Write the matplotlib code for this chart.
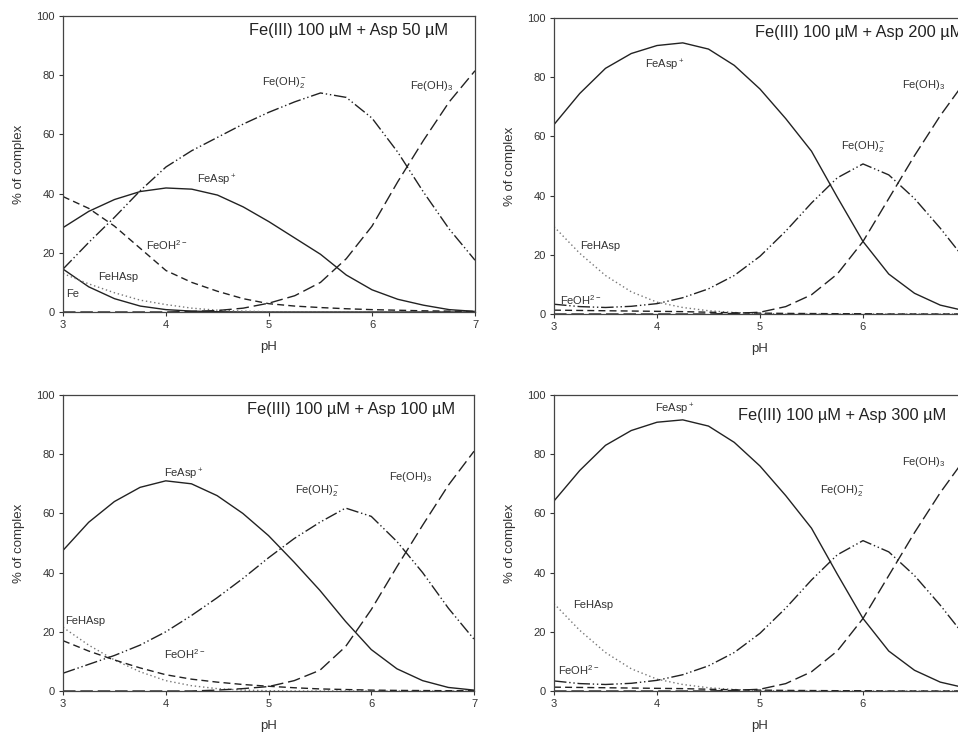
import matplotlib

matplotlib.use("Agg")
import matplotlib.pyplot as plt

plt.rcParams["font.family"] = ["Liberation Sans", "DejaVu Sans"]
plt.rcParams["mathtext.default"] = "regular"

# pH grid shared by every panel
ph = [3.0, 3.25, 3.5, 3.75, 4.0, 4.25, 4.5, 4.75, 5.0, 5.25, 5.5, 5.75, 6.0, 6.25, 6.5, 6.75, 7.0]

# Fe(III) 100 uM + Asp 50 uM
a50_feasp = [28.5, 34, 38, 40.7, 41.9, 41.5, 39.5, 35.5, 30.5, 25, 19.5, 12.5, 7.5, 4.3, 2.3, 0.8, 0.2]
a50_fe = [14.5, 8.5, 4.5, 2, 0.8, 0.3, 0.1, 0, 0, 0, 0, 0, 0, 0, 0, 0, 0]
a50_fehasp = [13, 9.5, 6.5, 4, 2.5, 1.3, 0.6, 0.3, 0.1, 0, 0, 0, 0, 0, 0, 0, 0]
a50_feoh = [39, 35, 29, 21.5, 14, 10, 7, 4.5, 2.8, 2, 1.5, 1.1, 0.8, 0.6, 0.4, 0.3, 0.2]
a50_feoh2 = [14.5, 23.5, 32, 41, 49, 54.5, 59, 63.5, 67.5, 71, 74, 72.5, 65.5, 54, 40.5, 28, 17.5]
a50_feoh3 = [0, 0, 0, 0, 0, 0.2, 0.5, 1.3, 3, 5.5, 10, 18, 29, 44, 58, 71, 81.5]

# Fe(III) 100 uM + Asp 100 uM
a100_feasp = [47.5, 57, 64, 68.8, 71, 70, 66, 60, 52.5, 43.5, 34, 23.5, 14, 7.5, 3.5, 1.2, 0.3]
a100_fehasp = [21.5, 15.5, 10.5, 6.5, 3.5, 1.8, 0.8, 0.3, 0.1, 0, 0, 0, 0, 0, 0, 0, 0]
a100_feoh = [17, 13.5, 10.5, 7.8, 5.5, 4, 3, 2.2, 1.6, 1.1, 0.7, 0.5, 0.3, 0.2, 0.15, 0.1, 0.1]
a100_feoh2 = [6, 9, 12, 15.5, 20, 25.5, 31.5, 38, 45, 51.5, 57, 61.8, 59, 50.5, 40, 28, 17.5]
a100_feoh3 = [0, 0, 0, 0, 0, 0, 0.3, 0.8, 1.5, 3.5, 7, 15, 27.5, 42, 56, 69.5, 81]

# Fe(III) 100 uM + Asp 200 uM
a200_feasp = [64, 74.5, 83, 88, 90.7, 91.6, 89.5, 84, 76, 66, 55, 39.5, 24.5, 13.5, 7, 3, 1]
a200_fehasp = [29.5, 20.5, 13, 7.5, 4, 2.2, 1.1, 0.5, 0.2, 0, 0, 0, 0, 0, 0, 0, 0]
a200_feoh = [1.3, 1.2, 1.1, 1, 0.9, 0.8, 0.6, 0.4, 0.3, 0.2, 0.15, 0.1, 0.1, 0, 0, 0, 0]
a200_feoh2 = [3.3, 2.5, 2.2, 2.6, 3.5, 5.5, 8.5, 13, 19.5, 28, 37.5, 46, 50.7, 47, 39, 29, 18]
a200_feoh3 = [0, 0, 0, 0, 0, 0, 0, 0.2, 0.6, 2.5, 6.5, 13.5, 24.5, 39, 53.5, 67, 79]

# Fe(III) 100 uM + Asp 300 uM
a300_feasp = [64.2, 74.5, 83, 88, 90.8, 91.6, 89.5, 84, 76, 66, 55, 39.5, 24.5, 13.5, 7, 3, 1]
a300_fehasp = [29.5, 20.5, 13, 7.5, 4, 2.2, 1.1, 0.5, 0.2, 0, 0, 0, 0, 0, 0, 0, 0]
a300_feoh = [1.3, 1.2, 1.1, 1, 0.9, 0.8, 0.6, 0.4, 0.3, 0.2, 0.15, 0.1, 0.1, 0, 0, 0, 0]
a300_feoh2 = [3.4, 2.5, 2.2, 2.6, 3.6, 5.5, 8.5, 13, 19.5, 28, 37.5, 46, 50.8, 47, 39, 29, 18]
a300_feoh3 = [0, 0, 0, 0, 0, 0, 0, 0.2, 0.6, 2.5, 6.5, 13.5, 24.5, 39, 53.5, 67, 79]

INK = "#222222"
TXT = "#333333"
STYLES = {
    "feasp": dict(color=INK, linestyle="-", linewidth=1.0),
    "fe": dict(color=INK, linestyle="-", linewidth=1.0),
    "fehasp": dict(color="#777777", linestyle=(0, (1, 2)), linewidth=1.0),
    "feoh": dict(color=INK, linestyle=(0, (5, 3)), linewidth=1.0),
    "feoh2": dict(color=INK, linestyle=(0, (9, 2, 1, 2, 1, 2)), linewidth=1.0),
    "feoh3": dict(color=INK, linestyle=(0, (9, 3.5)), linewidth=1.0),
}

panels = [
    # (axes rect, x ticks, title, title pos, series, labels)
    (
        [63 / 958, 428 / 740, 412 / 958, 296 / 740], [3, 4, 5, 6, 7],
        "Fe(III) 100 µM + Asp 50 µM", (4.81, 95),
        {"feasp": a50_feasp, "fe": a50_fe, "fehasp": a50_fehasp, "feoh": a50_feoh,
         "feoh2": a50_feoh2, "feoh3": a50_feoh3},
        [("Fe(OH)$_2^-$", 4.93, 77.5), ("Fe(OH)$_3$", 6.37, 76.5), ("FeAsp$^+$", 4.3, 44.5),
         ("FeOH$^{2-}$", 3.81, 22.5), ("FeHAsp", 3.34, 11.8), ("Fe", 3.03, 6.2)],
    ),
    (
        [554 / 958, 426 / 740, 412 / 958, 296 / 740], [3, 4, 5, 6],
        "Fe(III) 100 µM + Asp 200 µM", (4.95, 95),
        {"feasp": a200_feasp, "fehasp": a200_fehasp, "feoh": a200_feoh,
         "feoh2": a200_feoh2, "feoh3": a200_feoh3},
        [("FeAsp$^+$", 3.88, 84), ("Fe(OH)$_3$", 6.38, 77.5), ("Fe(OH)$_2^-$", 5.79, 56.6),
         ("FeHAsp", 3.25, 23), ("FeOH$^{2-}$", 3.06, 4.7)],
    ),
    (
        [63 / 958, 49 / 740, 411 / 958, 296 / 740], [3, 4, 5, 6, 7],
        "Fe(III) 100 µM + Asp 100 µM", (4.79, 95),
        {"feasp": a100_feasp, "fehasp": a100_fehasp, "feoh": a100_feoh,
         "feoh2": a100_feoh2, "feoh3": a100_feoh3},
        [("FeAsp$^+$", 3.98, 73.3), ("Fe(OH)$_2^-$", 5.26, 67.7), ("Fe(OH)$_3$", 6.17, 72.4),
         ("FeHAsp", 3.02, 23.8), ("FeOH$^{2-}$", 3.98, 12.5)],
    ),
    (
        [554 / 958, 49 / 740, 412 / 958, 296 / 740], [3, 4, 5, 6],
        "Fe(III) 100 µM + Asp 300 µM", (4.79, 93.2),
        {"feasp": a300_feasp, "fehasp": a300_fehasp, "feoh": a300_feoh,
         "feoh2": a300_feoh2, "feoh3": a300_feoh3},
        [("FeAsp$^+$", 3.98, 95), ("Fe(OH)$_3$", 6.38, 77.5), ("Fe(OH)$_2^-$", 5.58, 67.9),
         ("FeHAsp", 3.19, 29), ("FeOH$^{2-}$", 3.04, 7.1)],
    ),
]

fig = plt.figure(figsize=(9.58, 7.4), dpi=100)
for rect, xticks, title, tpos, series, labels in panels:
    ax = fig.add_axes(rect)
    for key, values in series.items():
        ax.plot(ph, values, **STYLES[key])
    ax.set_xlim(3, 7)
    ax.set_ylim(0, 100)
    ax.set_xticks(xticks)
    ax.set_yticks([0, 20, 40, 60, 80, 100])
    ax.tick_params(direction="out", length=3, width=0.8, labelsize=8, colors=TXT, pad=3)
    for sp in ax.spines.values():
        sp.set_color("#444444")
        sp.set_linewidth(0.9)
    ax.set_xlabel("pH", fontsize=9.5, color=TXT, labelpad=8)
    ax.set_ylabel("% of complex", fontsize=9.5, color=TXT, labelpad=8)
    ax.text(tpos[0], tpos[1], title, fontsize=11.8, color=INK, ha="left", va="center")
    for text, x, y in labels:
        ax.text(x, y, text, fontsize=8, color=TXT, ha="left", va="center")

fig.savefig("out.png", dpi=100)
